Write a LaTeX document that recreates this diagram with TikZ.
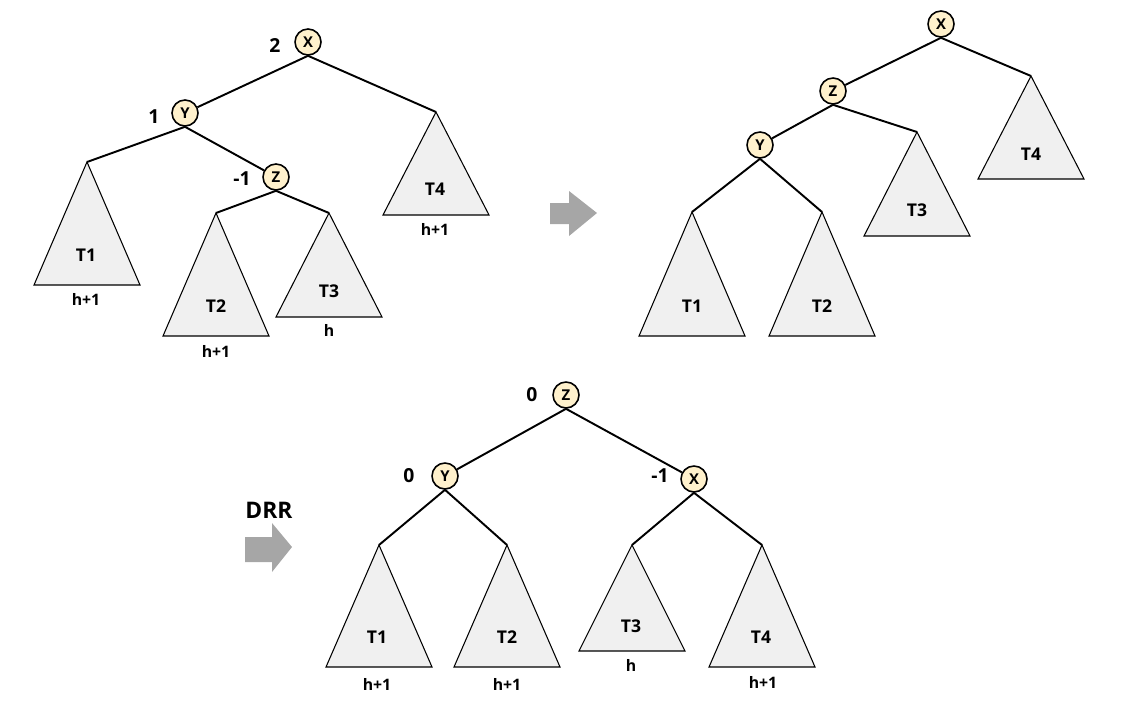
\documentclass[tikz,border=0pt]{standalone}
\usepackage{fontspec}
\setmainfont{Open Sans}
\definecolor{nodefill}{RGB}{255,241,204}
\definecolor{treefill}{RGB}{240,240,240}
\definecolor{arrowgray}{RGB}{166,166,166}
\begin{document}
\begin{tikzpicture}[x=0.02cm,y=-0.02cm,
    vnode/.style={circle,draw,line width=0.9pt,fill=nodefill,minimum size=0.52cm,inner sep=0pt,font=\bfseries\fontsize{8.5}{9}\selectfont},
    edge/.style={line width=1.1pt},
    subtree/.style={draw,line width=0.6pt,fill=treefill},
    tname/.style={font=\bfseries\fontsize{10}{11}\selectfont},
    hlab/.style={font=\bfseries\fontsize{9}{10}\selectfont},
    bal/.style={font=\bfseries\fontsize{11}{13}\selectfont}]
  \useasboundingbox (0,0) rectangle (1135,720);

  % before: left-right case
  \node[vnode] (x1) at (308,42) {X};
  \node[bal] at (275,46) {2};
  \node[vnode] (y1) at (185,113) {Y};
  \node[bal] at (154,117) {1};
  \node[vnode] (z1) at (276,177) {Z};
  \node[bal] at (242,179) {-1};
  \coordinate (t1a) at (87,162);
  \coordinate (t2a) at (216,213);
  \coordinate (t3a) at (329,213);
  \coordinate (t4a) at (436,112);
  \draw[subtree] (t1a) -- ++(-53,123) -- ++(106,0) -- cycle;
  \draw[subtree] (t2a) -- ++(-53,123) -- ++(106,0) -- cycle;
  \draw[subtree] (t3a) -- ++(-53,104) -- ++(106,0) -- cycle;
  \draw[subtree] (t4a) -- ++(-53,103) -- ++(106,0) -- cycle;
  \node[tname] at (86,255) {T1};
  \node[tname] at (216,306) {T2};
  \node[tname] at (329,291) {T3};
  \node[tname] at (435,189) {T4};
  \node[hlab] at (86,299) {h+1};
  \node[hlab] at (216,351) {h+1};
  \node[hlab] at (329,330) {h};
  \node[hlab] at (435,229) {h+1};
  \draw[edge] (x1.south) -- (y1);
  \draw[edge] (x1.south) -- (t4a);
  \draw[edge] (y1.south) -- (t1a);
  \draw[edge] (y1.south) -- (z1);
  \draw[edge] (z1.south) -- (t2a);
  \draw[edge] (z1.south) -- (t3a);

  \fill[arrowgray] (550,203) -- ++(19,0) -- ++(0,-12) -- ++(28,22) -- ++(-28,23) -- ++(0,-12) -- ++(-19,0) -- cycle;

  % after the first rotation
  \node[vnode] (x2) at (941,24) {X};
  \node[vnode] (z2) at (833,91) {Z};
  \node[vnode] (y2) at (760,145) {Y};
  \coordinate (u1a) at (692,212);
  \coordinate (u2a) at (822,212);
  \coordinate (u3a) at (917,132);
  \coordinate (u4a) at (1031,76);
  \draw[subtree] (u1a) -- ++(-53,124) -- ++(106,0) -- cycle;
  \draw[subtree] (u2a) -- ++(-53,124) -- ++(106,0) -- cycle;
  \draw[subtree] (u3a) -- ++(-53,104) -- ++(106,0) -- cycle;
  \draw[subtree] (u4a) -- ++(-53,103) -- ++(106,0) -- cycle;
  \node[tname] at (692,306) {T1};
  \node[tname] at (822,306) {T2};
  \node[tname] at (917,210) {T3};
  \node[tname] at (1031,154) {T4};
  \draw[edge] (x2.south) -- (z2);
  \draw[edge] (x2.south) -- (u4a);
  \draw[edge] (z2.south) -- (y2);
  \draw[edge] (z2.south) -- (u3a);
  \draw[edge] (y2.south) -- (u1a);
  \draw[edge] (y2.south) -- (u2a);

  \node[font=\bfseries\fontsize{13}{15}\selectfont] at (269,510) {DRR};
  \fill[arrowgray] (245,537) -- ++(27,0) -- ++(0,-14) -- ++(20,24) -- ++(-20,25) -- ++(0,-10) -- ++(-27,0) -- cycle;

  % after double rotation
  \node[vnode] (z3) at (566,395) {Z};
  \node[bal] at (532,395) {0};
  \node[vnode] (y3) at (445,476) {Y};
  \node[bal] at (409,476) {0};
  \node[vnode] (x3) at (694,479) {X};
  \node[bal] at (660,476) {-1};
  \coordinate (v1a) at (379,545);
  \coordinate (v2a) at (507,545);
  \coordinate (v3a) at (632,545);
  \coordinate (v4a) at (762,545);
  \draw[subtree] (v1a) -- ++(-53,122) -- ++(106,0) -- cycle;
  \draw[subtree] (v2a) -- ++(-53,122) -- ++(106,0) -- cycle;
  \draw[subtree] (v3a) -- ++(-53,106) -- ++(106,0) -- cycle;
  \draw[subtree] (v4a) -- ++(-53,122) -- ++(106,0) -- cycle;
  \node[tname] at (377,637) {T1};
  \node[tname] at (507,637) {T2};
  \node[tname] at (631,626) {T3};
  \node[tname] at (761,637) {T4};
  \node[hlab] at (377,684) {h+1};
  \node[hlab] at (507,684) {h+1};
  \node[hlab] at (631,665) {h};
  \node[hlab] at (763,682) {h+1};
  \draw[edge] (z3.south) -- (y3);
  \draw[edge] (z3.south) -- (x3);
  \draw[edge] (y3.south) -- (v1a);
  \draw[edge] (y3.south) -- (v2a);
  \draw[edge] (x3.south) -- (v3a);
  \draw[edge] (x3.south) -- (v4a);
\end{tikzpicture}
\end{document}
